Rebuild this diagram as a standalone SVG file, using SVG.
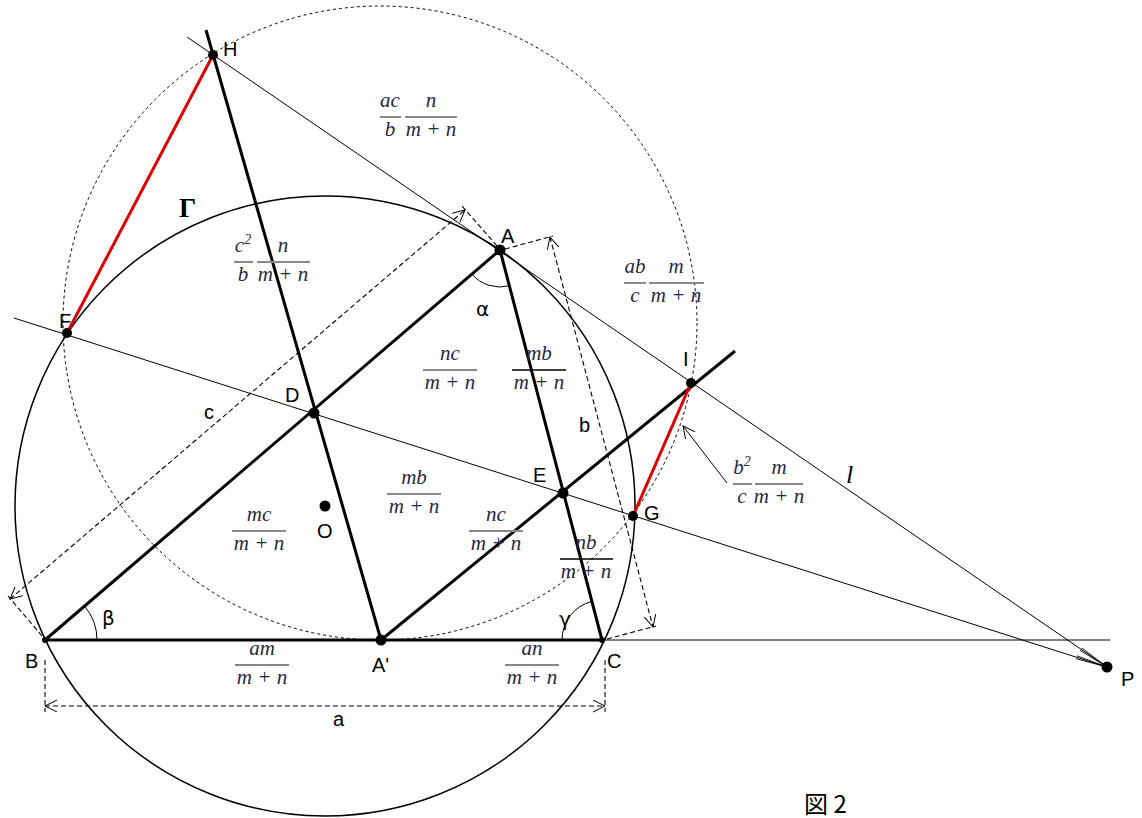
<svg xmlns="http://www.w3.org/2000/svg" width="1142" height="818" viewBox="0 0 1142 818">
<style>
.thin{stroke:#000;stroke-width:1;fill:none}
.bold{stroke:#000;stroke-width:3;fill:none}
.red{stroke:#e00000;stroke-width:3;fill:none}
.dash{stroke:#000;stroke-width:1.1;fill:none;stroke-dasharray:5,3}
.circ{stroke:#000;stroke-width:1.5;fill:none}
.dcirc{stroke:#000;stroke-width:1;fill:none;stroke-dasharray:3,3}
.lbl{font-family:"Liberation Sans",Arial,sans-serif;font-size:20px;fill:#000}
.gr{font-family:"DejaVu Sans",sans-serif;font-size:20px;fill:#000}
.m{font-family:"Liberation Serif","Times New Roman",serif;font-style:italic;font-size:21px;fill:#1f2a44;text-anchor:middle}
.bar{stroke:#888;stroke-width:2}
.barb{stroke:#000;stroke-width:1.6}
.dot{fill:#000}
</style>
<defs>
<marker id="ar" markerWidth="14" markerHeight="14" refX="12" refY="6" orient="auto-start-reverse" markerUnits="userSpaceOnUse">
<path d="M0,0 L12,6 L0,12" fill="none" stroke="#000" stroke-width="1"/>
</marker>
<marker id="nar" markerWidth="34" markerHeight="8" refX="32" refY="4" orient="auto" markerUnits="userSpaceOnUse">
<path d="M0,2.5 L32,4 L0,5.5" fill="none" stroke="#000" stroke-width="0.8"/>
</marker>
</defs>

<g id="circles">
<circle class="circ" cx="325" cy="506" r="310"/>
<circle class="dcirc" cx="380" cy="323" r="317"/>
</g>

<g id="connectors">
<line class="thin" x1="45" y1="640" x2="1110" y2="640"/>
<line class="thin" x1="187" y1="37" x2="1107" y2="667" marker-end="url(#nar)"/>
<line class="thin" x1="14" y1="318" x2="1107" y2="667" marker-end="url(#nar)"/>
<line class="bold" x1="45" y1="640" x2="602" y2="640"/>
<line class="bold" x1="45" y1="640" x2="500" y2="250"/>
<line class="bold" x1="500" y1="250" x2="602" y2="640"/>
<line class="bold" x1="206" y1="30" x2="381" y2="640"/>
<line class="bold" x1="381" y1="640" x2="735" y2="351"/>
<line class="red" x1="67" y1="333" x2="213" y2="55"/>
<line class="red" x1="633" y1="516" x2="691" y2="383"/>
<line class="thin" x1="727" y1="483" x2="683" y2="426" marker-end="url(#ar)"/>
<!-- dimension c -->
<line class="dash" x1="42" y1="636" x2="8" y2="596"/>
<line class="dash" x1="497" y1="246" x2="462" y2="206"/>
<line class="dash" x1="10" y1="599" x2="465" y2="210" marker-start="url(#ar)" marker-end="url(#ar)"/>
<!-- dimension b -->
<line class="dash" x1="505" y1="249" x2="553" y2="236"/>
<line class="dash" x1="607" y1="639" x2="656" y2="626"/>
<line class="dash" x1="550" y1="237" x2="653" y2="627" marker-start="url(#ar)" marker-end="url(#ar)"/>
<!-- dimension a -->
<line class="dash" x1="45" y1="660" x2="45" y2="712"/>
<line class="dash" x1="605" y1="660" x2="605" y2="712"/>
<line class="dash" x1="45" y1="706" x2="605" y2="706" marker-start="url(#ar)" marker-end="url(#ar)"/>
<!-- angle arcs -->
<path class="thin" d="M471.9,274.1 A37,37 0 0 0 509.4,285.8"/>
<path class="thin" d="M97,640 A52,52 0 0 0 84.5,606.1"/>
<path class="thin" d="M562,640 A40,40 0 0 1 591.9,601.3"/>
</g>

<g id="points">
<circle class="dot" cx="45" cy="640" r="3"/>
<circle class="dot" cx="602" cy="640" r="3"/>
<circle class="dot" cx="500" cy="250" r="5.5"/>
<circle class="dot" cx="381" cy="640" r="5.5"/>
<circle class="dot" cx="314" cy="413" r="5.5"/>
<circle class="dot" cx="563" cy="493" r="5.5"/>
<circle class="dot" cx="325" cy="506" r="5.5"/>
<circle class="dot" cx="67" cy="333" r="5"/>
<circle class="dot" cx="633" cy="516" r="5"/>
<circle class="dot" cx="213" cy="55" r="5"/>
<circle class="dot" cx="691" cy="383" r="5"/>
<circle class="dot" cx="1107" cy="667" r="5.5"/>
</g>

<g id="labels">
<text class="lbl" x="223" y="56">H</text>
<text class="lbl" x="501" y="243">A</text>
<text class="lbl" x="59" y="328">F</text>
<text class="lbl" x="683" y="366">I</text>
<text class="lbl" x="285" y="402">D</text>
<text class="lbl" x="204" y="419">c</text>
<text class="lbl" x="579" y="432">b</text>
<text class="lbl" x="533" y="482">E</text>
<text class="lbl" x="644" y="520">G</text>
<text class="lbl" x="317" y="538">O</text>
<text class="lbl" x="25" y="668">B</text>
<text class="lbl" x="372" y="672">A'</text>
<text class="lbl" x="607" y="668">C</text>
<text class="lbl" x="1121" y="686" font-size="22">P</text>
<text class="lbl" x="333" y="726">a</text>
<text class="gr" x="476" y="316">α</text>
<text class="gr" x="102" y="625">β</text>
<text class="gr" x="559" y="626">γ</text>
<text x="846" y="483" font-family="Liberation Serif,serif" font-style="italic" font-size="26">l</text>
<text x="179" y="217" font-family="Liberation Serif,serif" font-weight="bold" font-size="27">Γ</text>
<text x="804" y="813" font-family="Noto Sans CJK JP,sans-serif" font-size="24">図 2</text>
</g>

<g id="fractions">
<text class="m" x="390" y="107">ac</text><line class="bar" x1="380" y1="117" x2="401" y2="117"/><text class="m" x="390" y="136">b</text>
<text class="m" x="431" y="107">n</text><line class="bar" x1="405" y1="117" x2="457" y2="117"/><text class="m" x="431" y="136">m + n</text>
<text class="m" x="243" y="252">c<tspan font-size="14" dy="-8">2</tspan></text><line class="bar" x1="234" y1="262" x2="253" y2="262"/><text class="m" x="243" y="281">b</text>
<text class="m" x="283" y="252">n</text><line class="bar" x1="257" y1="262" x2="310" y2="262"/><text class="m" x="283" y="281">m + n</text>
<text class="m" x="635" y="273">ab</text><line class="bar" x1="624" y1="283" x2="646" y2="283"/><text class="m" x="635" y="302">c</text>
<text class="m" x="676" y="273">m</text><line class="bar" x1="649" y1="283" x2="704" y2="283"/><text class="m" x="676" y="302">m + n</text>
<text class="m" x="450" y="360">nc</text><line class="bar" x1="423" y1="370" x2="477" y2="370"/><text class="m" x="450" y="389">m + n</text>
<text class="m" x="539" y="360">mb</text><line class="barb" x1="512" y1="370" x2="566" y2="370"/><text class="m" x="539" y="389">m + n</text>
<text class="m" x="742" y="474">b<tspan font-size="14" dy="-8">2</tspan></text><line class="bar" x1="733" y1="484" x2="752" y2="484"/><text class="m" x="742" y="503">c</text>
<text class="m" x="779" y="474">m</text><line class="bar" x1="755" y1="484" x2="803" y2="484"/><text class="m" x="779" y="503">m + n</text>
<text class="m" x="259" y="521">mc</text><line class="bar" x1="232" y1="531" x2="286" y2="531"/><text class="m" x="259" y="550">m + n</text>
<text class="m" x="414" y="484">mb</text><line class="bar" x1="387" y1="494" x2="441" y2="494"/><text class="m" x="414" y="513">m + n</text>
<text class="m" x="496" y="521">nc</text><line class="bar" x1="469" y1="531" x2="523" y2="531"/><text class="m" x="496" y="550">m + n</text>
<text class="m" x="586" y="549">nb</text><line class="barb" x1="560" y1="559" x2="613" y2="559"/><text class="m" x="586" y="578">m + n</text>
<text class="m" x="262" y="655">am</text><line class="bar" x1="235" y1="665" x2="289" y2="665"/><text class="m" x="262" y="684">m + n</text>
<text class="m" x="532" y="655">an</text><line class="bar" x1="505" y1="665" x2="559" y2="665"/><text class="m" x="532" y="684">m + n</text>
</g>
</svg>
